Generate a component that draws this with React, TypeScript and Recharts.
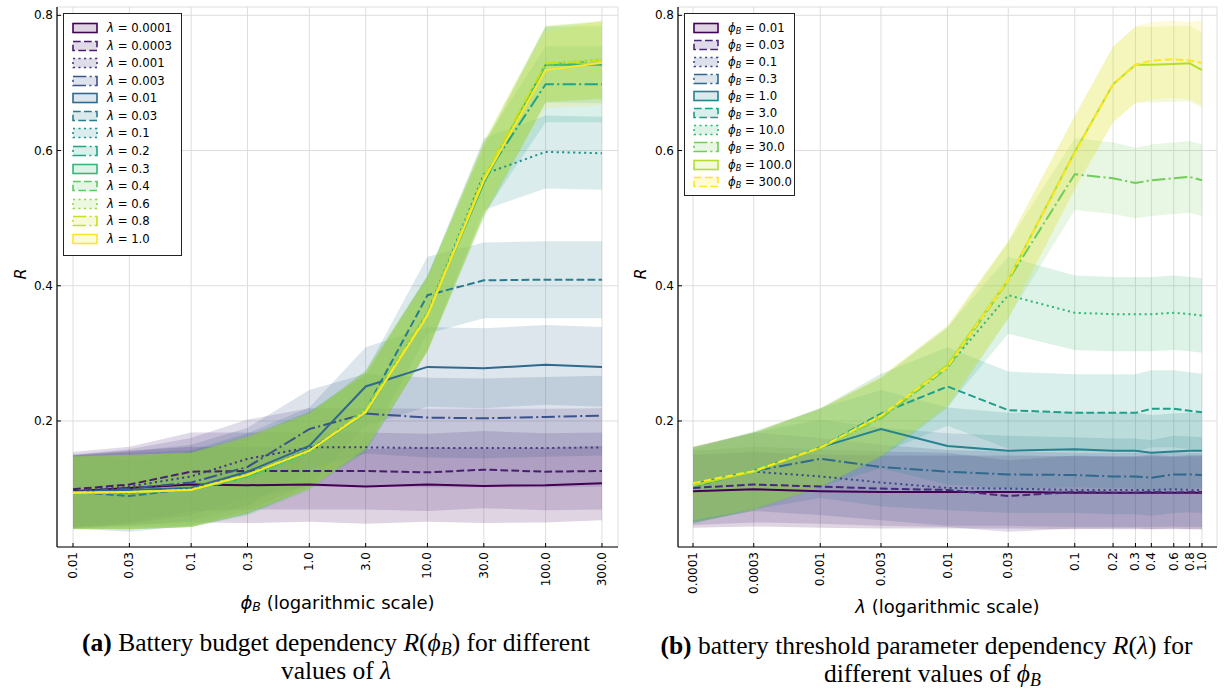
import React from 'react';
import {
    Area,
    CartesianGrid,
    ComposedChart,
    Label,
    Line,
    XAxis,
    YAxis,
} from 'recharts';

// x positions
const phiValues = [0.01, 0.03, 0.1, 0.3, 1, 3, 10, 30, 100, 300];
const phiLabels = ['0.01', '0.03', '0.1', '0.3', '1.0', '3.0', '10.0', '30.0', '100.0', '300.0'];
const lambdaValues = [0.0001, 0.0003, 0.001, 0.003, 0.01, 0.03, 0.1, 0.2, 0.3, 0.4, 0.6, 0.8, 1.0];
const lambdaLabels = ['0.0001', '0.0003', '0.001', '0.003', '0.01', '0.03', '0.1', '0.2', '0.3', '0.4', '0.6', '0.8', '1.0'];
const yTicks = [0.2, 0.4, 0.6, 0.8];

// mean R for each phi_B, one value per lambda
const meanPhi001 = [0.096, 0.099, 0.096, 0.095, 0.095, 0.095, 0.094, 0.094, 0.094, 0.094, 0.094, 0.094, 0.094];
const meanPhi003 = [0.101, 0.106, 0.103, 0.1, 0.098, 0.089, 0.095, 0.094, 0.094, 0.095, 0.094, 0.095, 0.095];
const meanPhi01 = [0.106, 0.125, 0.118, 0.109, 0.101, 0.1, 0.098, 0.098, 0.098, 0.098, 0.099, 0.098, 0.098];
const meanPhi03 = [0.105, 0.126, 0.144, 0.132, 0.125, 0.121, 0.12, 0.118, 0.118, 0.116, 0.121, 0.121, 0.12];
const meanPhi1 = [0.106, 0.126, 0.161, 0.188, 0.163, 0.156, 0.158, 0.156, 0.156, 0.153, 0.155, 0.156, 0.156];
const meanPhi3 = [0.103, 0.126, 0.161, 0.211, 0.251, 0.216, 0.212, 0.212, 0.212, 0.218, 0.218, 0.215, 0.213];
const meanPhi10 = [0.106, 0.124, 0.16, 0.205, 0.28, 0.386, 0.36, 0.358, 0.358, 0.358, 0.36, 0.358, 0.356];
const meanPhi30 = [0.104, 0.128, 0.16, 0.204, 0.278, 0.408, 0.565, 0.559, 0.552, 0.556, 0.559, 0.561, 0.556];
const meanPhi100 = [0.105, 0.125, 0.16, 0.206, 0.283, 0.409, 0.598, 0.698, 0.727, 0.727, 0.728, 0.729, 0.719];
const meanPhi300 = [0.108, 0.126, 0.161, 0.208, 0.28, 0.409, 0.596, 0.698, 0.727, 0.733, 0.735, 0.733, 0.73];

// standard deviation (shaded band) for each phi_B, one value per lambda
const stdPhi001 = [0.054, 0.055, 0.054, 0.054, 0.054, 0.054, 0.054, 0.053, 0.053, 0.054, 0.053, 0.054, 0.054];
const stdPhi003 = [0.055, 0.056, 0.055, 0.055, 0.055, 0.053, 0.054, 0.054, 0.054, 0.055, 0.054, 0.055, 0.055];
const stdPhi01 = [0.056, 0.058, 0.057, 0.056, 0.056, 0.055, 0.055, 0.055, 0.055, 0.055, 0.055, 0.055, 0.055];
const stdPhi03 = [0.056, 0.057, 0.058, 0.058, 0.057, 0.057, 0.056, 0.056, 0.056, 0.056, 0.057, 0.056, 0.056];
const stdPhi1 = [0.055, 0.057, 0.058, 0.058, 0.057, 0.056, 0.056, 0.056, 0.056, 0.056, 0.056, 0.056, 0.056];
const stdPhi3 = [0.055, 0.057, 0.058, 0.059, 0.058, 0.057, 0.057, 0.057, 0.057, 0.057, 0.057, 0.057, 0.057];
const stdPhi10 = [0.055, 0.057, 0.058, 0.059, 0.059, 0.057, 0.055, 0.055, 0.055, 0.055, 0.055, 0.055, 0.055];
const stdPhi30 = [0.055, 0.057, 0.058, 0.059, 0.059, 0.056, 0.053, 0.053, 0.052, 0.053, 0.053, 0.053, 0.053];
const stdPhi100 = [0.055, 0.057, 0.058, 0.059, 0.059, 0.057, 0.054, 0.056, 0.056, 0.056, 0.056, 0.056, 0.056];
const stdPhi300 = [0.055, 0.057, 0.058, 0.059, 0.059, 0.057, 0.054, 0.056, 0.057, 0.057, 0.057, 0.057, 0.063];

const meanRows = [meanPhi001, meanPhi003, meanPhi01, meanPhi03, meanPhi1, meanPhi3, meanPhi10, meanPhi30, meanPhi100, meanPhi300];
const stdRows = [stdPhi001, stdPhi003, stdPhi01, stdPhi03, stdPhi1, stdPhi3, stdPhi10, stdPhi30, stdPhi100, stdPhi300];

// styles
const lambdaColors = ['#440154', '#481c6e', '#453781', '#3b528b', '#31688e', '#287c8e', '#21918c', '#20a486', '#35b779', '#5ec962', '#90d743', '#c8e020', '#fde725'];
const phiColors = ['#440154', '#482878', '#3e4989', '#31688e', '#26828e', '#1f9e89', '#35b779', '#6ece58', '#b5de2b', '#fde725'];
const dashes = ['', '7.7 3.3', '2.1 3.4', '13.3 3.3 2.1 3.3'];
const BAND_OPACITY = 0.17;
const SANS = '"DejaVu Sans", sans-serif';

// panel (a): one series per lambda over phi_B
const dataA = phiValues.map((p, i) => {
    const row: any = { x: p };
    lambdaValues.forEach((_, j) => {
        const m = meanRows[i][j];
        const s = stdRows[i][j];
        row['m' + j] = m;
        row['b' + j] = [m - s, m + s];
    });
    return row;
});

// panel (b): one series per phi_B over lambda
const dataB = lambdaValues.map((l, j) => {
    const row: any = { x: l };
    phiValues.forEach((_, i) => {
        const m = meanRows[i][j];
        const s = stdRows[i][j];
        row['m' + i] = m;
        row['b' + i] = [m - s, m + s];
    });
    return row;
});

const XTick = ({ x, y, payload, values, labels }: any) => {
    const idx = values.indexOf(payload.value);
    return (
        <g>
            <line x1={x} y1={y} x2={x} y2={y - 4} stroke="#000" />
            <text
                x={x}
                y={y + 5}
                transform={`rotate(-90 ${x} ${y + 5})`}
                textAnchor="end"
                dominantBaseline="central"
                fontSize={12}
                fontFamily={SANS}
                fill="#000"
            >
                {labels[idx]}
            </text>
        </g>
    );
};

const YTick = ({ x, y, payload }: any) => (
    <g>
        <line x1={x} y1={y} x2={x + 4} y2={y} stroke="#000" />
        <text x={x - 4} y={y} textAnchor="end" dominantBaseline="central" fontSize={12} fontFamily={SANS} fill="#000">
            {payload.value.toFixed(1)}
        </text>
    </g>
);

const TopTick = ({ x, y }: any) => <line x1={x} y1={y} x2={x} y2={y + 4} stroke="#000" />;
const RightTick = ({ x, y }: any) => <line x1={x} y1={y} x2={x - 4} y2={y} stroke="#000" />;

const RLabel = ({ viewBox }: any) => {
    const cx = viewBox.x + 20;
    const cy = viewBox.y + viewBox.height / 2 - 3;
    return (
        <text
            x={cx}
            y={cy}
            transform={`rotate(-90 ${cx} ${cy})`}
            textAnchor="middle"
            dominantBaseline="central"
            fontSize={16}
            fontStyle="italic"
            fontFamily={SANS}
        >
            R
        </text>
    );
};

type PanelProps = {
    data: any[];
    colors: string[];
    xValues: number[];
    xLabels: string[];
    domain: [number, number];
    left: number;
    width: number;
    marginRight: number;
    yAxisWidth: number;
    xTitle: React.ReactNode;
    xTitleDy: number;
};

const Panel = ({ data, colors, xValues, xLabels, domain, left, width, marginRight, yAxisWidth, xTitle, xTitleDy }: PanelProps) => {
    const XTitle = ({ viewBox }: any) => (
        <text
            x={viewBox.x + viewBox.width / 2}
            y={viewBox.y + xTitleDy}
            textAnchor="middle"
            dominantBaseline="central"
            fontSize={18}
            fontFamily={SANS}
        >
            {xTitle}
        </text>
    );

    return (
        <div style={{ position: 'absolute', left, top: 0 }}>
            <ComposedChart width={width} height={620} data={data} margin={{ top: 7, right: marginRight, bottom: 0, left: 0 }}>
                <CartesianGrid stroke="#dedede" strokeWidth={1} />
                <XAxis
                    dataKey="x"
                    type="number"
                    scale="log"
                    domain={domain}
                    allowDataOverflow
                    ticks={xValues}
                    interval={0}
                    height={73}
                    tickSize={0}
                    tickMargin={0}
                    tickLine={false}
                    axisLine={{ stroke: '#000', strokeWidth: 1.2 }}
                    tick={(p: any) => <XTick {...p} values={xValues} labels={xLabels} />}
                >
                    <Label content={XTitle} />
                </XAxis>
                <XAxis
                    xAxisId="top"
                    orientation="top"
                    dataKey="x"
                    type="number"
                    scale="log"
                    domain={domain}
                    allowDataOverflow
                    ticks={xValues}
                    interval={0}
                    height={0}
                    tickSize={0}
                    tickLine={false}
                    axisLine={{ stroke: '#000', strokeWidth: 1.2 }}
                    tick={TopTick}
                />
                <YAxis
                    type="number"
                    domain={[0.0136, 0.8123]}
                    allowDataOverflow
                    ticks={yTicks}
                    width={yAxisWidth}
                    tickSize={0}
                    tickMargin={0}
                    tickLine={false}
                    axisLine={{ stroke: '#000', strokeWidth: 1.2 }}
                    tick={YTick}
                >
                    <Label content={RLabel} />
                </YAxis>
                <YAxis
                    yAxisId="right"
                    orientation="right"
                    type="number"
                    domain={[0.0136, 0.8123]}
                    allowDataOverflow
                    ticks={yTicks}
                    width={0}
                    tickSize={0}
                    tickLine={false}
                    axisLine={{ stroke: '#000', strokeWidth: 1.2 }}
                    tick={RightTick}
                />
                {colors.flatMap((c, k) => [
                    <Area
                        key={'b' + k}
                        type="linear"
                        dataKey={'b' + k}
                        stroke="none"
                        fill={c}
                        fillOpacity={BAND_OPACITY}
                        isAnimationActive={false}
                        activeDot={false}
                    />,
                    <Line
                        key={'m' + k}
                        type="linear"
                        dataKey={'m' + k}
                        stroke={c}
                        strokeWidth={2}
                        strokeDasharray={dashes[k % 4] || undefined}
                        dot={false}
                        activeDot={false}
                        isAnimationActive={false}
                    />,
                ])}
            </ComposedChart>
        </div>
    );
};

const LegendBox = ({ left, top, width, height, firstY, rowH, colors, labels, symbol }: any) => (
    <div
        style={{
            position: 'absolute',
            left,
            top,
            width,
            height,
            boxSizing: 'border-box',
            border: '1.2px solid #222',
            background: '#fff',
            fontFamily: SANS,
            fontSize: 11.7,
            color: '#000',
        }}
    >
        {labels.map((lab: string, k: number) => (
            <div
                key={lab}
                style={{
                    position: 'absolute',
                    left: 8,
                    top: firstY - top + k * rowH - 8,
                    height: 16,
                    display: 'flex',
                    alignItems: 'center',
                    whiteSpace: 'nowrap',
                }}
            >
                <svg width={26} height={12} style={{ marginRight: 9 }}>
                    <rect
                        x={1}
                        y={1.5}
                        width={24}
                        height={9}
                        fill={colors[k]}
                        fillOpacity={BAND_OPACITY}
                        stroke={colors[k]}
                        strokeWidth={1.6}
                        strokeDasharray={dashes[k % 4] || undefined}
                    />
                </svg>
                <span>
                    {symbol} = {lab}
                </span>
            </div>
        ))}
    </div>
);

const lambdaSym = <i>λ</i>;
const phiSym = (
    <span>
        <i>ϕ</i>
        <sub style={{ fontSize: '70%', fontStyle: 'italic', verticalAlign: '-2px', lineHeight: 0 }}>B</sub>
    </span>
);

const subB = <sub style={{ fontSize: '70%', verticalAlign: '-4px', lineHeight: 0 }}><i>B</i></sub>;

const App = () => {
    const captionStyle: React.CSSProperties = {
        position: 'absolute',
        fontFamily: '"Liberation Serif", serif',
        fontSize: 25.5,
        lineHeight: '27px',
        height: 27,
        color: '#000',
        whiteSpace: 'nowrap',
        textAlign: 'center',
    };
    return (
        <div style={{ position: 'absolute', left: 0, top: 0, width: 1227, height: 689, overflow: 'hidden', background: '#fff' }}>
            <Panel
                data={dataA}
                colors={lambdaColors}
                xValues={phiValues}
                xLabels={phiLabels}
                domain={[0.00732, 410]}
                left={0}
                width={630}
                marginRight={12}
                yAxisWidth={57}
                xTitle={
                    <>
                        <tspan fontStyle="italic">ϕ</tspan>
                        <tspan fontStyle="italic" fontSize={12.5} dy={4}>B</tspan>
                        <tspan dy={-4}> (logarithmic scale)</tspan>
                    </>
                }
                xTitleDy={55}
            />
            <Panel
                data={dataB}
                colors={phiColors}
                xValues={lambdaValues}
                xLabels={lambdaLabels}
                domain={[0.0000762, 1.312]}
                left={620}
                width={605}
                marginRight={8}
                yAxisWidth={58}
                xTitle={
                    <>
                        <tspan fontStyle="italic">λ</tspan>
                        <tspan> (logarithmic scale)</tspan>
                    </>
                }
                xTitleDy={59}
            />
            <LegendBox left={63} top={13} width={119} height={243} firstY={27.3} rowH={17.53} colors={lambdaColors} labels={lambdaLabels} symbol={lambdaSym} />
            <LegendBox left={684} top={13} width={111} height={183} firstY={26.7} rowH={17.1} colors={phiColors} labels={phiLabels} symbol={phiSym} />

            <div style={{ ...captionStyle, left: 36, width: 600, top: 629 }}>
                <b>(a)</b> Battery budget dependency <i>R</i>(<i>ϕ</i>{subB}) for different
            </div>
            <div style={{ ...captionStyle, left: 36, width: 600, top: 657 }}>
                values of <i>λ</i>
            </div>
            <div style={{ ...captionStyle, left: 628, width: 597, top: 632 }}>
                <b>(b)</b> battery threshold parameter dependency <i>R</i>(<i>λ</i>) for
            </div>
            <div style={{ ...captionStyle, left: 634, width: 597, top: 660 }}>
                different values of <i>ϕ</i>{subB}
            </div>
        </div>
    );
};

export default App;
